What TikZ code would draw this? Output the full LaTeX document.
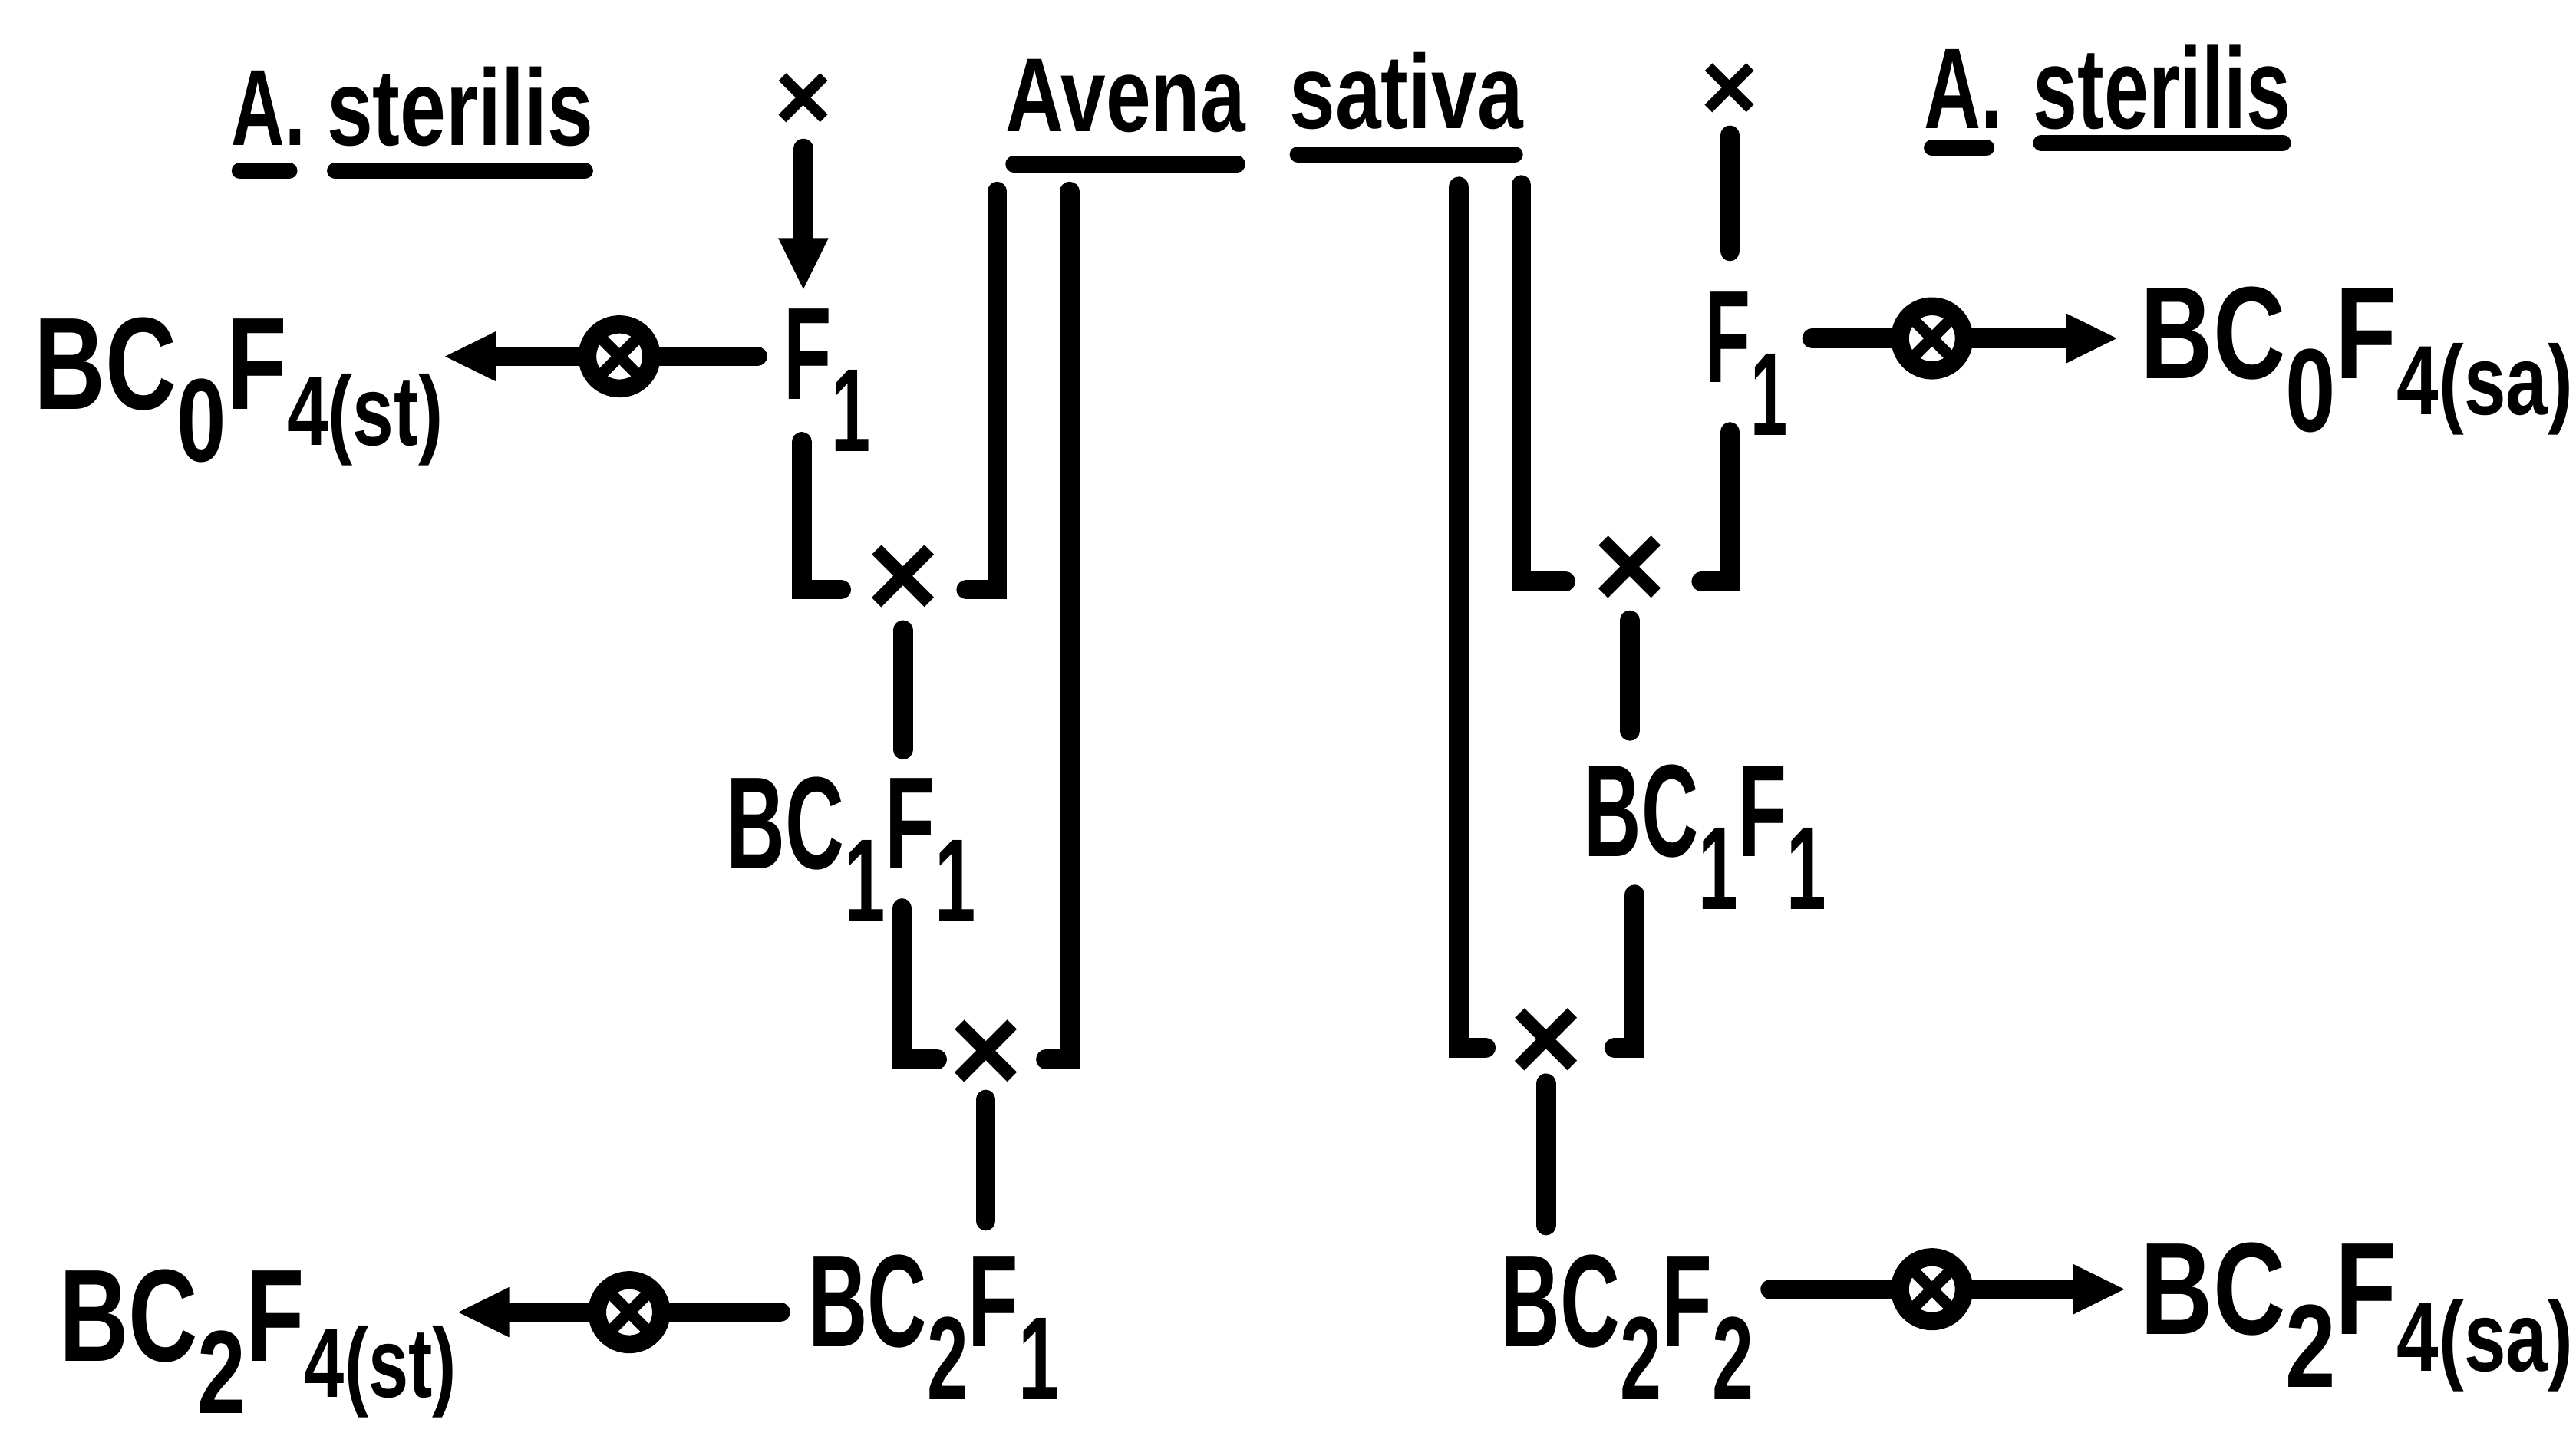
\documentclass[tikz,border=0pt]{standalone}
\usepackage{fontspec}
\usepackage{graphicx}
\setmainfont{Liberation Sans}
\usetikzlibrary{arrows.meta,calc}
\newcommand{\lo}[1]{\raisebox{-16pt}{\fontsize{36}{36}\selectfont #1}}
\newcommand{\los}[1]{\raisebox{-11pt}{\fontsize{30}{30}\selectfont #1}}
\newcommand{\mlab}[2]{\resizebox{#1}{\height}{\fontsize{40}{40}\selectfont\bfseries #2}}
\newcommand{\tlab}[3]{\resizebox{#1}{\height}{\fontsize{#2}{#2}\selectfont\bfseries #3}}
\tikzset{
  lab/.style={inner sep=0pt, outer sep=0pt, anchor=base west},
  crs/.style={inner sep=0pt, font=\bfseries\fontsize{38}{38}\selectfont},
  crss/.style={inner sep=0pt, font=\bfseries\fontsize{30}{30}\selectfont},
  otimes/.style={circle, draw, line width=5.5pt, inner sep=0pt, minimum size=19.5pt,
    path picture={\draw[line width=3.5pt] (path picture bounding box.south west) -- (path picture bounding box.north east)
      (path picture bounding box.north west) -- (path picture bounding box.south east);}},
  ln/.style={line width=6pt, line cap=round},
  arr/.style={line width=6pt, line cap=round, -{Triangle[length=16pt,width=14pt]}},
  ul/.style={line width=5pt, line cap=round},
}
\begin{document}
\begin{tikzpicture}[x=0.5pt,y=-0.5pt]
\useasboundingbox (0,0) rectangle (1568,874);
% main labels
\node[lab] (L0) at (21,249) {\mlab{124.5pt}{BC\lo{0}F\los{4(st)}}};
\node[lab] (F1L) at (477,243) {\mlab{26.5pt}{F\lo{1}}};
\node[lab] (BC1L) at (442,529) {\mlab{76pt}{BC\lo{1}F\lo{1}}};
\node[lab] (BC2L) at (492,820) {\mlab{76.5pt}{BC\lo{2}F\lo{1}}};
\node[lab] (L2) at (36,828.6) {\mlab{121pt}{BC\lo{2}F\los{4(st)}}};
\node[lab] (F1R) at (1038,233) {\mlab{25pt}{F\lo{1}}};
\node[lab] (R0) at (1303,230.6) {\mlab{131.5pt}{BC\lo{0}F\los{4(sa)}}};
\node[lab] (BC1R) at (964.5,521.7) {\mlab{73.5pt}{BC\lo{1}F\lo{1}}};
\node[lab] (BC2R) at (913.6,820) {\mlab{77pt}{BC\lo{2}F\lo{2}}};
\node[lab] (R2) at (1303,812.7) {\mlab{131.5pt}{BC\lo{2}F\los{4(sa)}}};
% top labels
\node[lab] (AL) at (141,88.5) {\tlab{22.5pt}{33}{A.}};
\node[lab] (sL) at (199,88.5) {\tlab{81pt}{33}{sterilis}};
\node[lab] (Av) at (612,80) {\tlab{73pt}{32}{Avena}};
\node[lab] (sa) at (785,78) {\tlab{71pt}{32}{sativa}};
\node[lab] (AR) at (1171,78) {\tlab{24pt}{35}{A.}};
\node[lab] (sR) at (1237.5,78) {\tlab{78.5pt}{35}{sterilis}};
% underlines
\draw[ul] ($(AL.base west)+(5,15.5)$) -- ($(AL.base east)+(-10,15.5)$);
\draw[ul] ($(sL.base west)+(5,15.5)$) -- ($(sL.base east)+(-5,15.5)$);
\draw[ul] ($(Av.base west)+(5,20)$) -- ($(Av.base east)+(-5,20)$);
\draw[ul] ($(sa.base west)+(5,16)$) -- ($(sa.base east)+(-5,16)$);
\draw[ul] ($(AR.base west)+(5,12)$) -- ($(AR.base east)+(-10,12)$);
\draw[ul] ($(sR.base west)+(5,9)$) -- ($(sR.base east)+(-5,9)$);
% crosses
\node[crss] (xTL) at (489,62) {×};
\node[crss] (xTR) at (1053,56) {×};
\node[crs] (xA) at (549.6,354) {×};
\node[crs] (xB) at (600,643) {×};
\node[crs] (xC) at (992,348.5) {×};
\node[crs] (xD) at (941,636) {×};
% selfing symbols
\node[otimes] (oTL) at (377,217) {};
\node[otimes] (oTR) at (1176,206) {};
\node[otimes] (oBL) at (383,799) {};
\node[otimes] (oBR) at (1176,785) {};
% corners
\coordinate (a1) at (488,359); \coordinate (a2) at (607,359);
\coordinate (b1) at (651,645); \coordinate (b2) at (549,645);
\coordinate (c1) at (1053,354); \coordinate (c2) at (926,354);
\coordinate (d1) at (888,638); \coordinate (d2) at (995,638);
% left connectors
\draw[arr, shorten <=5.25pt, shorten >=5.5pt] (xTL) -- (F1L.north -| xTL);
\draw[ln, shorten <=8pt] (F1L.west |- oTL) -- (oTL);
\draw[arr] (oTL) -- (oTL -| L0.east);
\draw[ln, shorten >=7.5pt] ($(F1L.base -| a1)+(0,26)$) -- (a1) -- (xA.west |- a1);
\draw[ln, shorten <=18pt, shorten >=8pt] (Av.south -| a2) -- (a2) -- (xA.east |- a2);
\draw[ln, shorten <=18pt, shorten >=7pt] (Av.south -| b1) -- (b1) -- (xB.east |- b1);
\draw[ln, shorten >=3.5pt] ($(BC1L.base -| b2)+(0,24)$) -- (b2) -- (xB.west |- b2);
\draw[ln, shorten <=3.55pt, shorten >=8.35pt] (xA) -- (BC1L.north -| xA);
\draw[ln, shorten <=2pt, shorten >=10.4pt] (xB) -- (BC2L.north -| xB);
\draw[ln, shorten <=8.5pt] (BC2L.west |- oBL) -- (oBL);
\draw[arr] (oBL) -- (oBL -| L2.east);
% right connectors
\draw[ln, shorten <=4.25pt, shorten >=12.5pt] (xTR) -- (F1R.north -| xTR);
\draw[ln, shorten <=7.5pt] (F1R.east |- oTR) -- (oTR);
\draw[arr, shorten >=6.8pt] (oTR) -- (oTR -| R0.west);
\draw[ln, shorten >=10.5pt] ($(F1R.base -| c1)+(0,30)$) -- (c1) -- (xC.east |- c1);
\draw[ln, shorten <=17pt, shorten >=8.25pt] (sa.south -| c2) -- (c2) -- (xC.west |- c2);
\draw[ln, shorten <=17.5pt, shorten >=7pt] (sa.south -| d1) -- (d1) -- (xD.west |- d1);
\draw[ln, shorten >=9.5pt] ($(BC1R.base -| d2)+(0,23)$) -- (d2) -- (xD.east |- d2);
\draw[ln, shorten <=3.3pt, shorten >=10.4pt] (xC) -- (BC1R.north -| xC);
\draw[ln, shorten <=0.55pt, shorten >=9pt] (xD) -- (BC2R.north -| xD);
\draw[ln, shorten <=5pt] (BC2R.east |- oBR) -- (oBR);
\draw[arr, shorten >=4.5pt] (oBR) -- (oBR -| R2.west);
\end{tikzpicture}
\end{document}
